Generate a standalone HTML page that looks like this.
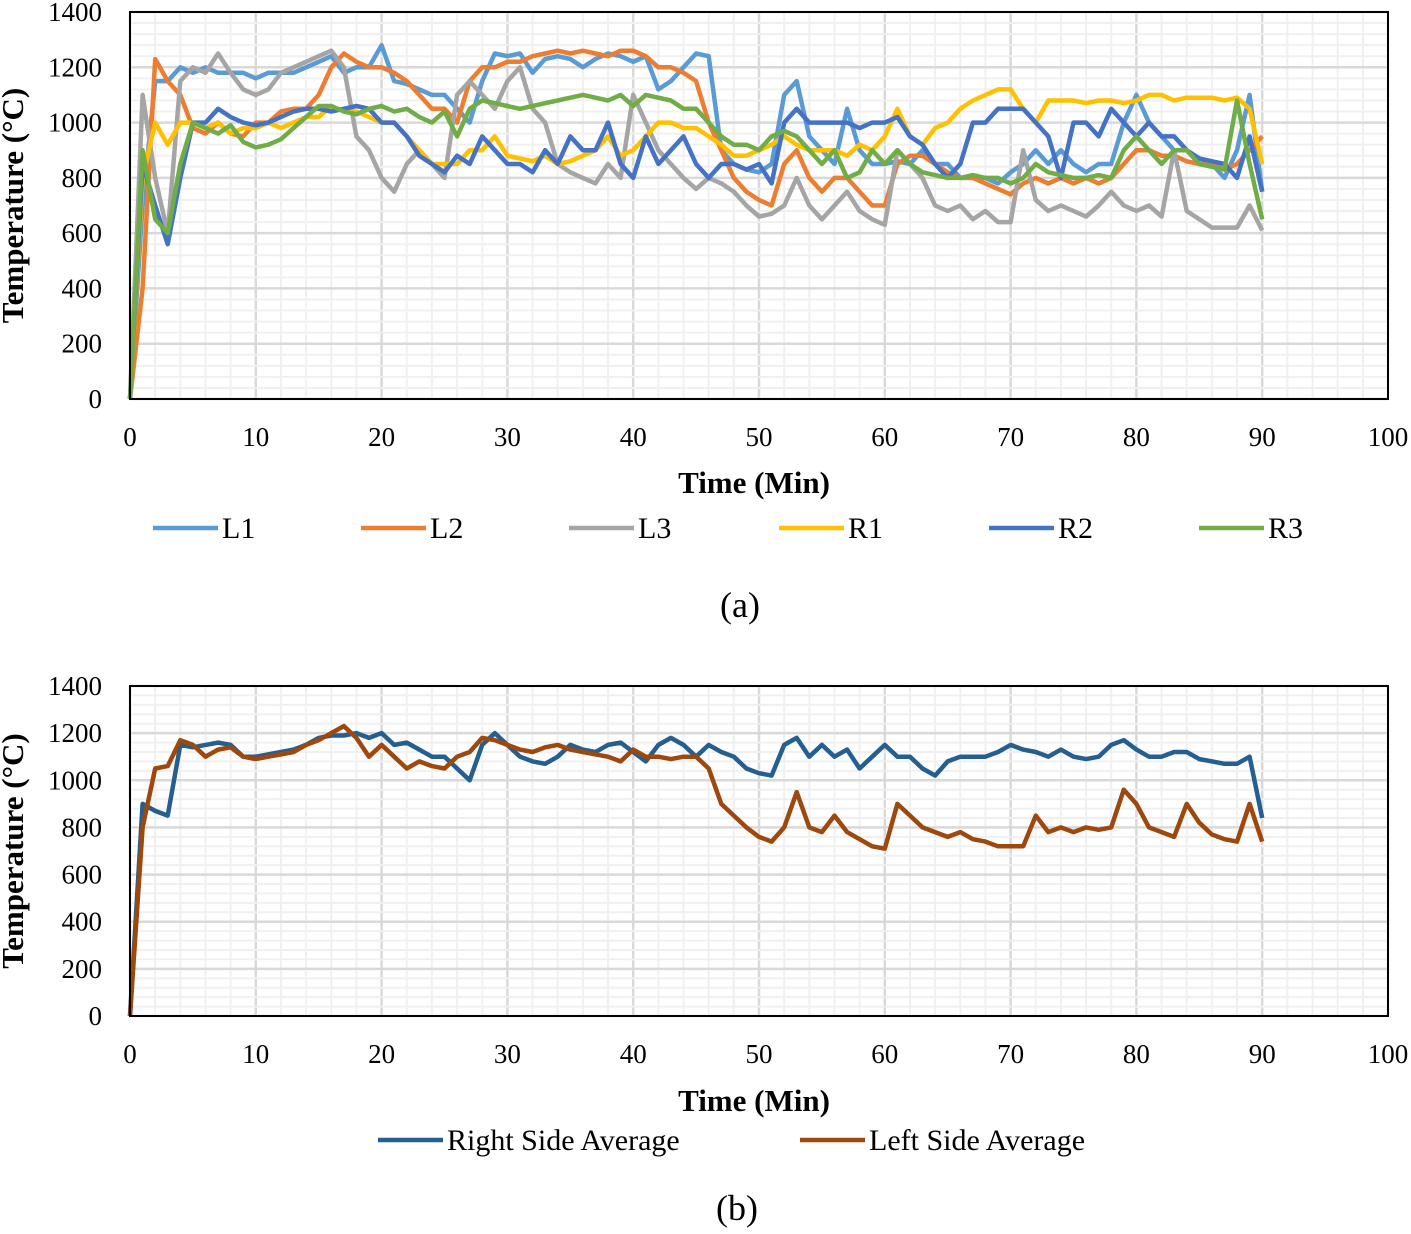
<!DOCTYPE html>
<html><head><meta charset="utf-8"><style>
body{margin:0;background:#fff}
svg text{font-family:"Liberation Serif",serif;fill:#000}
</style></head><body>
<svg id="s" width="1411" height="1229" xmlns="http://www.w3.org/2000/svg"></svg>
<script>
const L1=[0,700,1150,1150,1200,1180,1200,1180,1180,1180,1160,1180,1180,1180,1200,1220,1240,1180,1200,1200,1280,1150,1140,1120,1100,1100,1050,1000,1150,1250,1240,1250,1180,1230,1240,1230,1200,1230,1250,1240,1220,1240,1120,1150,1200,1250,1240,900,850,830,820,850,1100,1150,950,900,850,1050,900,850,850,860,850,900,850,850,800,800,800,780,820,850,900,850,900,850,820,850,850,1000,1100,1000,950,900,900,870,850,800,900,1100,750];
const L2=[0,400,1230,1150,1100,980,960,1000,960,950,1000,1000,1040,1050,1050,1100,1200,1250,1220,1200,1200,1180,1150,1100,1050,1050,1000,1150,1200,1200,1220,1220,1240,1250,1260,1250,1260,1250,1240,1260,1260,1240,1200,1200,1180,1150,1000,900,800,750,720,700,850,900,800,750,800,800,750,700,700,850,880,880,850,820,800,800,780,760,740,780,800,780,800,780,800,780,800,850,900,900,880,880,860,850,850,830,850,900,950];
const L3=[0,1100,800,600,1150,1200,1180,1250,1180,1120,1100,1120,1180,1200,1220,1240,1260,1200,950,900,800,750,850,900,850,800,1100,1150,1100,1050,1150,1200,1050,1000,850,820,800,780,850,800,1100,1000,900,850,800,760,800,780,750,700,660,670,700,800,700,650,700,750,680,650,630,900,850,800,700,680,700,650,680,640,640,900,720,680,700,680,660,700,750,700,680,700,660,900,680,650,620,620,620,700,610];
const R1=[0,800,1000,920,1000,1000,980,1000,960,980,980,1000,980,1000,1020,1020,1060,1040,1040,1020,1000,1000,950,900,850,850,850,900,900,950,880,870,860,880,850,860,880,900,950,880,900,950,1000,1000,980,980,950,920,880,880,900,920,950,920,900,900,900,880,920,900,950,1050,950,920,980,1000,1050,1080,1100,1120,1120,1050,1000,1080,1080,1080,1070,1080,1080,1070,1080,1100,1100,1080,1090,1090,1090,1080,1090,1050,850];
const R2=[0,850,700,560,800,1000,1000,1050,1020,1000,990,1000,1020,1040,1050,1050,1040,1050,1060,1050,1000,1000,950,880,850,820,880,850,950,900,850,850,820,900,850,950,900,900,1000,850,800,950,850,900,950,850,800,850,850,830,850,780,1000,1050,1000,1000,1000,1000,980,1000,1000,1020,950,920,850,800,850,1000,1000,1050,1050,1050,1000,950,800,1000,1000,950,1050,1000,950,1000,950,950,900,870,860,850,800,950,750];
const R3=[0,900,650,600,850,1000,980,960,990,930,910,920,940,980,1020,1060,1060,1040,1030,1050,1060,1040,1050,1020,1000,1040,950,1050,1080,1070,1060,1050,1060,1070,1080,1090,1100,1090,1080,1100,1060,1100,1090,1080,1050,1050,1000,950,920,920,900,950,970,950,900,850,900,800,820,900,850,900,850,820,810,800,800,810,800,800,780,800,850,820,810,800,800,810,800,900,950,900,850,900,900,850,840,830,1080,850,650];
const RAVG=[0,900,870,850,1150,1140,1150,1160,1150,1100,1100,1110,1120,1130,1150,1180,1190,1190,1200,1180,1200,1150,1160,1130,1100,1100,1050,1000,1150,1200,1150,1100,1080,1070,1100,1150,1130,1120,1150,1160,1120,1080,1150,1180,1150,1100,1150,1120,1100,1050,1030,1020,1150,1180,1100,1150,1100,1130,1050,1100,1150,1100,1100,1050,1020,1080,1100,1100,1100,1120,1150,1130,1120,1100,1130,1100,1090,1100,1150,1170,1130,1100,1100,1120,1120,1090,1080,1070,1070,1100,840];
const LAVG=[0,800,1050,1060,1170,1150,1100,1130,1140,1100,1090,1100,1110,1120,1150,1170,1200,1230,1180,1100,1150,1100,1050,1080,1060,1050,1100,1120,1180,1170,1150,1130,1120,1140,1150,1130,1120,1110,1100,1080,1130,1100,1100,1090,1100,1100,1050,900,850,800,760,740,800,950,800,780,850,780,750,720,710,900,850,800,780,760,780,750,740,720,720,720,850,780,800,780,800,790,800,960,900,800,780,760,900,820,770,750,740,900,740];
const xTicks=[0,10,20,30,40,50,60,70,80,90,100];
const yTicks=[0,200,400,600,800,1000,1200,1400];

const svg=document.getElementById('s');
const NS='http://www.w3.org/2000/svg';
function mk(tag,attrs,parent){const e=document.createElementNS(NS,tag);for(const k in attrs)e.setAttribute(k,attrs[k]);(parent||svg).appendChild(e);return e;}
function txt(s,attrs,parent){const e=mk('text',attrs,parent);e.textContent=s;return e;}

function chart(id,top,bottom,series,legend,legY,caption,capY,xtitleY){
  const x0=130,x1=1388;
  const X=v=>x0+(v/100)*(x1-x0);
  const Y=v=>bottom-(v/1400)*(bottom-top);
  const g=mk('g',{});
  
  
  for(let v=0;v<=100;v+=2){const l=mk('line',{x1:X(v),x2:X(v),y1:top,y2:bottom,stroke:v%10==0?'#d9d9d9':'#f0f0f0','stroke-width':v%10==0?2.5:2},g);}
  for(let v=0;v<=1400;v+=40){const l=mk('line',{x1:x0,x2:x1,y1:Y(v),y2:Y(v),stroke:v%200==0?'#d9d9d9':'#f0f0f0','stroke-width':v%200==0?2.5:2},g);}
  xTicks.forEach(v=>{const t=txt(String(v),{x:X(v),y:bottom+47,'font-size':27,'text-anchor':'middle'},g);});
  yTicks.forEach(v=>{const t=txt(String(v),{x:102,y:Y(v)+9,'font-size':27,'text-anchor':'end'},g);});
  series.forEach(s=>{
    const d=s.data.map((v,i)=>(i?'L':'M')+X(i).toFixed(1)+' '+Y(v).toFixed(1)).join(' ');
    const p=mk('path',{d:d,fill:'none',stroke:s.color,'stroke-width':4.5,'stroke-linejoin':'round'},g);
    
    
  });
  const b=mk('rect',{x:x0,y:top,width:x1-x0,height:bottom-top,fill:'none',stroke:'#000','stroke-width':2},g);
  
  const xt=txt('Time (Min)',{x:(x0+x1)/2-5,y:xtitleY,'font-size':31,'font-weight':'bold','text-anchor':'middle'},g);
  
  const yt=txt('Temperature (°C)',{x:0,y:0,'font-size':31,'font-weight':'bold','text-anchor':'middle',transform:'translate(23,'+((top+bottom)/2)+') rotate(-90)'},g);
  
  legend.forEach((l,i)=>{
    const s=series[l.idx];
    const ln=mk('line',{x1:l.x,x2:l.x+65,y1:legY,y2:legY,stroke:s.color,'stroke-width':4.5},g);
    
    const t=txt(s.name,{x:l.x+69,y:legY+10,'font-size':30},g);
    
  });
  const c=txt(caption,{x:caption=='(a)'?740:737,y:capY,'font-size':36,'text-anchor':'middle'},g);
  
}
chart('chart-a',12,399,[
  {name:'L1',color:'#5b9bd5',data:L1},
  {name:'L2',color:'#ed7d31',data:L2},
  {name:'L3',color:'#a5a5a5',data:L3},
  {name:'R1',color:'#ffc000',data:R1},
  {name:'R2',color:'#4472c4',data:R2},
  {name:'R3',color:'#70ad47',data:R3}
],[{idx:0,x:153},{idx:1,x:361},{idx:2,x:569},{idx:3,x:779},{idx:4,x:989},{idx:5,x:1199}],528,'(a)',617,493);
chart('chart-b',686,1016,[
  {name:'Right Side Average',color:'#255e91',data:RAVG},
  {name:'Left Side Average',color:'#9e480e',data:LAVG}
],[{idx:0,x:378},{idx:1,x:800}],1140,'(b)',1220,1111);
</script>
</body></html>
